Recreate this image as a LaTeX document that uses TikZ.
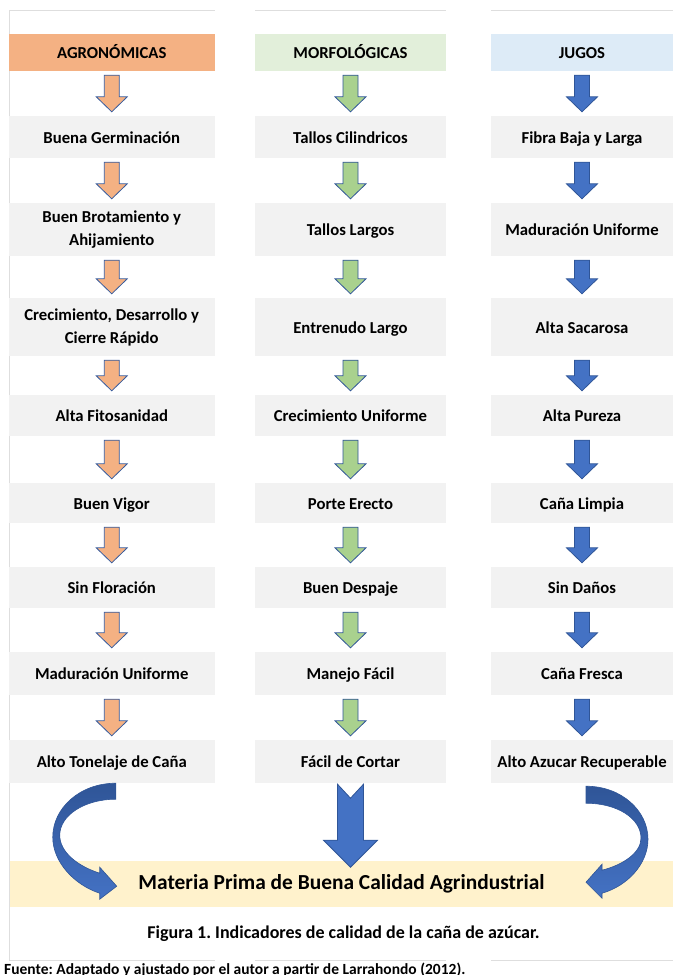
\documentclass[tikz,border=0pt]{standalone}
\usepackage{fontspec}
\setmainfont{Carlito}
\usepackage{xcolor}
\usetikzlibrary{positioning,calc}
\frenchspacing

\definecolor{naranja}{HTML}{F4B183}
\definecolor{verdeclaro}{HTML}{E2EFDA}
\definecolor{azulclaro}{HTML}{DDEBF7}
\definecolor{gris}{HTML}{F2F2F2}
\definecolor{crema}{HTML}{FFF2CC}
\definecolor{verde}{HTML}{A9D18E}
\definecolor{azul}{HTML}{4472C4}
\definecolor{azulosc}{HTML}{2F5597}
\definecolor{rejilla}{HTML}{DEDEDE}

\tikzset{
  celda/.style={fill=gris, inner sep=0pt, align=center, text height=12pt, text depth=0pt,
    font=\bfseries\fontsize{16.7}{23}\selectfont},
  doslineas/.style={text height={}, text depth={}},
  colA/.style={celda, minimum width=206.5},
  colM/.style={celda, minimum width=191},
  colJ/.style={celda, minimum width=182},
  flechanar/.style={fill=naranja, draw=azul!80!black, line width=0.8pt},
  flechaver/.style={fill=verde, draw=azulosc, line width=0.8pt},
  flechaazu/.style={fill=azul, draw=azulosc, line width=0.8pt},
  curvaflecha/.style={top color=azulosc, bottom color=azul, draw=azulosc, line width=0.6pt}
}

% flecha de bloque entre dos celdas: origen, destino, estilo
\newcommand{\flecha}[3]{%
  \path[#3] let \p1=($(#1.south)+(0pt,-4pt)$), \p2=($(#2.north)+(0pt,4pt)$) in
    (\x1-7.5pt,\y1) -- (\x1+7.5pt,\y1) -- (\x1+7.5pt,\y2+15pt) -- (\x1+15.5pt,\y2+15pt)
    -- (\x1,\y2) -- (\x1-15.5pt,\y2+15pt) -- (\x1-7.5pt,\y2+15pt) -- cycle;}

\begin{document}
\begin{tikzpicture}[x=1pt, y=-1pt]
    \useasboundingbox (0,0) rectangle (673,975);

    % rejilla de la tabla
    \draw[rejilla, line width=1pt] (9,10) -- (9,960);
    \foreach \xa/\xb in {9/215, 255/446, 491/673} {
        \draw[rejilla, line width=1pt] (\xa,10) -- (\xb,10);
        \draw[rejilla, line width=1pt] (\xa,960) -- (\xb,960);
    }

    % encabezados
    \node[colA, fill=naranja, minimum height=37] (a0) at (111.75,52.5) {AGRONÓMICAS};
    \node[colM, fill=verdeclaro, minimum height=37] (m0) at (350.5,52.5) {MORFOLÓGICAS};
    \node[colJ, fill=azulclaro, minimum height=37] (j0) at (582,52.5) {JUGOS};

    % filas
    \foreach \i/\yc/\h/\oa/\ta/\tm/\tj in {
        1/137/42/{}/{Buena Germinación}/{Tallos Cilindricos}/{Fibra Baja y Larga},
        2/229.5/53/doslineas/{Buen Brotamiento y\\Ahijamiento}/{Tallos Largos}/{Maduración Uniforme},
        3/327/58/doslineas/{Crecimiento, Desarrollo y\\Cierre Rápido}/{Entrenudo Largo}/{Alta Sacarosa},
        4/415.5/41/{}/{Alta Fitosanidad}/{Crecimiento Uniforme}/{Alta Pureza},
        5/503/40/{}/{Buen Vigor}/{Porte Erecto}/{Caña Limpia},
        6/587.5/41/{}/{Sin Floración}/{Buen Despaje}/{Sin Daños},
        7/673.5/43/{}/{Maduración Uniforme}/{Manejo Fácil}/{Caña Fresca},
        8/761.5/43/{}/{Alto Tonelaje de Caña}/{Fácil de Cortar}/{Alto Azucar Recuperable}} {
        \node[colA, \oa, minimum height=\h] (a\i) at (111.75,\yc) {\ta};
        \node[colM, minimum height=\h] (m\i) at (350.5,\yc) {\tm};
        \node[colJ, minimum height=\h] (j\i) at (582,\yc) {\tj};
    }

    % flechas entre filas
    \foreach \i [count=\j from 1] in {0,...,7} {
        \flecha{a\i}{a\j}{flechanar}
        \flecha{m\i}{m\j}{flechaver}
        \flecha{j\i}{j\j}{flechaazu}
    }

    % franja final
    \node[fill=crema, inner sep=0pt, minimum width=663, minimum height=46,
        font=\bfseries\fontsize{21.4}{26}\selectfont] (banda) at (341.5,884)
        {Materia Prima de Buena Calidad Agrindustrial};

    % flecha central
    \begin{scope}[shift={(m8.south)}]
        \filldraw[flechaazu] (-13,1) -- (0,15) -- (13,1) -- (13,57) -- (27,57)
            -- (0,84) -- (-27,57) -- (-13,57) -- cycle;
    \end{scope}

    % flecha curva izquierda
    \begin{scope}[shift={(a8.south)}]
        \path[curvaflecha] (4,0) .. controls (-32,0) and (-59,25) .. (-59,54)
            .. controls (-59,79) and (-37,102) .. (-12,110)
            -- (-12,116) -- (5,103) -- (-12,84) -- (-12,90)
            .. controls (-34,83) and (-52,69) .. (-52,52)
            .. controls (-52,32) and (-27,16) .. (4,16) -- cycle;
    \end{scope}

    % flecha curva derecha
    \begin{scope}[shift={(j8.south)}]
        \path[curvaflecha] (4,3) .. controls (40,3) and (66,28) .. (66,56)
            .. controls (66,81) and (45,103) .. (20,110)
            -- (20,115) -- (4,99) -- (20,81) -- (20,87)
            .. controls (40,82) and (59,70) .. (59,55)
            .. controls (59,35) and (35,20) .. (4,20) -- cycle;
    \end{scope}

    % textos al pie
    \node[font=\bfseries\fontsize{18}{22}\selectfont] (titulo) at (343.5,934)
        {Figura 1. Indicadores de calidad de la caña de azúcar.};
    \node[anchor=base west, inner sep=0pt, font=\bfseries\fontsize{15.5}{18}\selectfont]
        (fuente) at (4,974) {Fuente: Adaptado y ajustado por el autor a partir de Larrahondo (2012).};
\end{tikzpicture}
\end{document}
